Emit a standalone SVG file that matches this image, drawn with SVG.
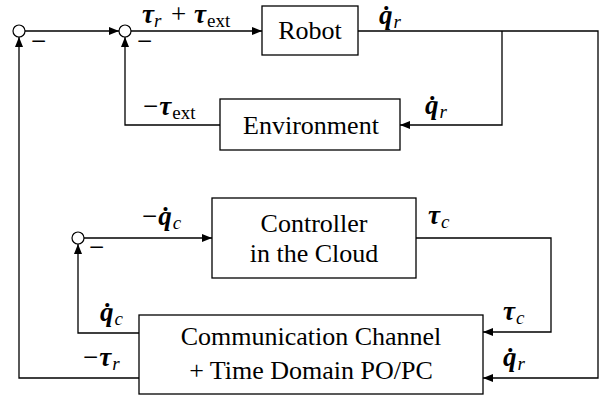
<svg xmlns="http://www.w3.org/2000/svg" width="605" height="398" viewBox="0 0 605 398">
  <style>
    .box { fill: #fff; stroke: #000; stroke-width: 1.3; }
    .sum { fill: #fff; stroke: #000; stroke-width: 1.2; }
    .wire { fill: none; stroke: #000; stroke-width: 1.3; }
    .lbl { font-family: "Liberation Serif", "Times New Roman", serif; font-size: 26px; fill: #000; text-anchor: middle; }
    .m { font-family: "Liberation Serif", "Times New Roman", serif; font-size: 27px; fill: #000; }
    .v { font-weight: bold; font-style: italic; }
    .s { font-style: italic; font-size: 19px; }
    .t { font-size: 19px; }
  </style>
  <defs>
    <marker id="arr" viewBox="0 0 10 8" refX="10" refY="4" markerWidth="10" markerHeight="8" markerUnits="userSpaceOnUse" orient="auto">
      <path d="M0,0 L10,4 L0,8 Z" fill="#000"/>
    </marker>
  </defs>

  <!-- signal wires -->
  <g id="connectors">
    <path class="wire" d="M25,31 H119" marker-end="url(#arr)"/>
    <path class="wire" d="M131,31 H262" marker-end="url(#arr)"/>
    <path class="wire" d="M358,31 H598 V378 H483" marker-end="url(#arr)"/>
    <path class="wire" d="M502,31 V125 H400" marker-end="url(#arr)"/>
    <path class="wire" d="M220,125 H125 V37" marker-end="url(#arr)"/>
    <path class="wire" d="M416,238 H551 V332 H483" marker-end="url(#arr)"/>
    <path class="wire" d="M139,333 H78 V244" marker-end="url(#arr)"/>
    <path class="wire" d="M84,238 H212" marker-end="url(#arr)"/>
    <path class="wire" d="M139,378 H19 V37" marker-end="url(#arr)"/>
  </g>

  <!-- summing junctions -->
  <g id="sum1">
    <circle class="sum" cx="19" cy="31" r="6"/>
    <text class="m" x="31" y="50">−</text>
  </g>
  <g id="sum2">
    <circle class="sum" cx="125" cy="31" r="6"/>
    <text class="m" x="137" y="50">−</text>
  </g>
  <g id="sum3">
    <circle class="sum" cx="78" cy="238" r="6"/>
    <text class="m" x="89" y="256">−</text>
  </g>

  <!-- blocks -->
  <g id="robot">
    <rect class="box" x="262" y="6" width="96" height="49"/>
    <text class="lbl" x="310" y="39">Robot</text>
  </g>
  <g id="environment">
    <rect class="box" x="220" y="99" width="180" height="51"/>
    <text class="lbl" x="311" y="134">Environment</text>
  </g>
  <g id="controller">
    <rect class="box" x="212" y="198" width="204" height="80"/>
    <text class="lbl" x="314" y="232">Controller</text>
    <text class="lbl" x="314" y="262">in the Cloud</text>
  </g>
  <g id="channel">
    <rect class="box" x="139" y="315" width="344" height="79"/>
    <text class="lbl" x="311" y="345">Communication Channel</text>
    <text class="lbl" x="311" y="379">+ Time Domain PO/PC</text>
  </g>

  <!-- signal labels -->
  <g id="labels">
    <text class="m" x="142" y="23"><tspan class="v">τ</tspan><tspan class="s" dy="4">r</tspan><tspan x="171" dy="-4">+</tspan><tspan class="v" x="194">τ</tspan><tspan class="t" dy="4" dx="1">ext</tspan></text>
    <text class="m" x="379" y="24"><tspan class="v">q̇</tspan><tspan class="s" dy="4" dx="1">r</tspan></text>
    <text class="m" x="143" y="115">−<tspan class="v" dx="1">τ</tspan><tspan class="t" dy="4" dx="1">ext</tspan></text>
    <text class="m" x="425" y="114"><tspan class="v">q̇</tspan><tspan class="s" dy="4" dx="1">r</tspan></text>
    <text class="m" x="142" y="225">−<tspan class="v" dx="1">q̇</tspan><tspan class="s" dy="4" dx="1">c</tspan></text>
    <text class="m" x="428" y="224"><tspan class="v">τ</tspan><tspan class="s" dy="4" dx="1">c</tspan></text>
    <text class="m" x="100" y="321"><tspan class="v">q̇</tspan><tspan class="s" dy="4" dx="1">c</tspan></text>
    <text class="m" x="83" y="366">−<tspan class="v" dx="1">τ</tspan><tspan class="s" dy="4" dx="1">r</tspan></text>
    <text class="m" x="503" y="320"><tspan class="v">τ</tspan><tspan class="s" dy="4" dx="1">c</tspan></text>
    <text class="m" x="503" y="366"><tspan class="v">q̇</tspan><tspan class="s" dy="4" dx="1">r</tspan></text>
  </g>
</svg>
